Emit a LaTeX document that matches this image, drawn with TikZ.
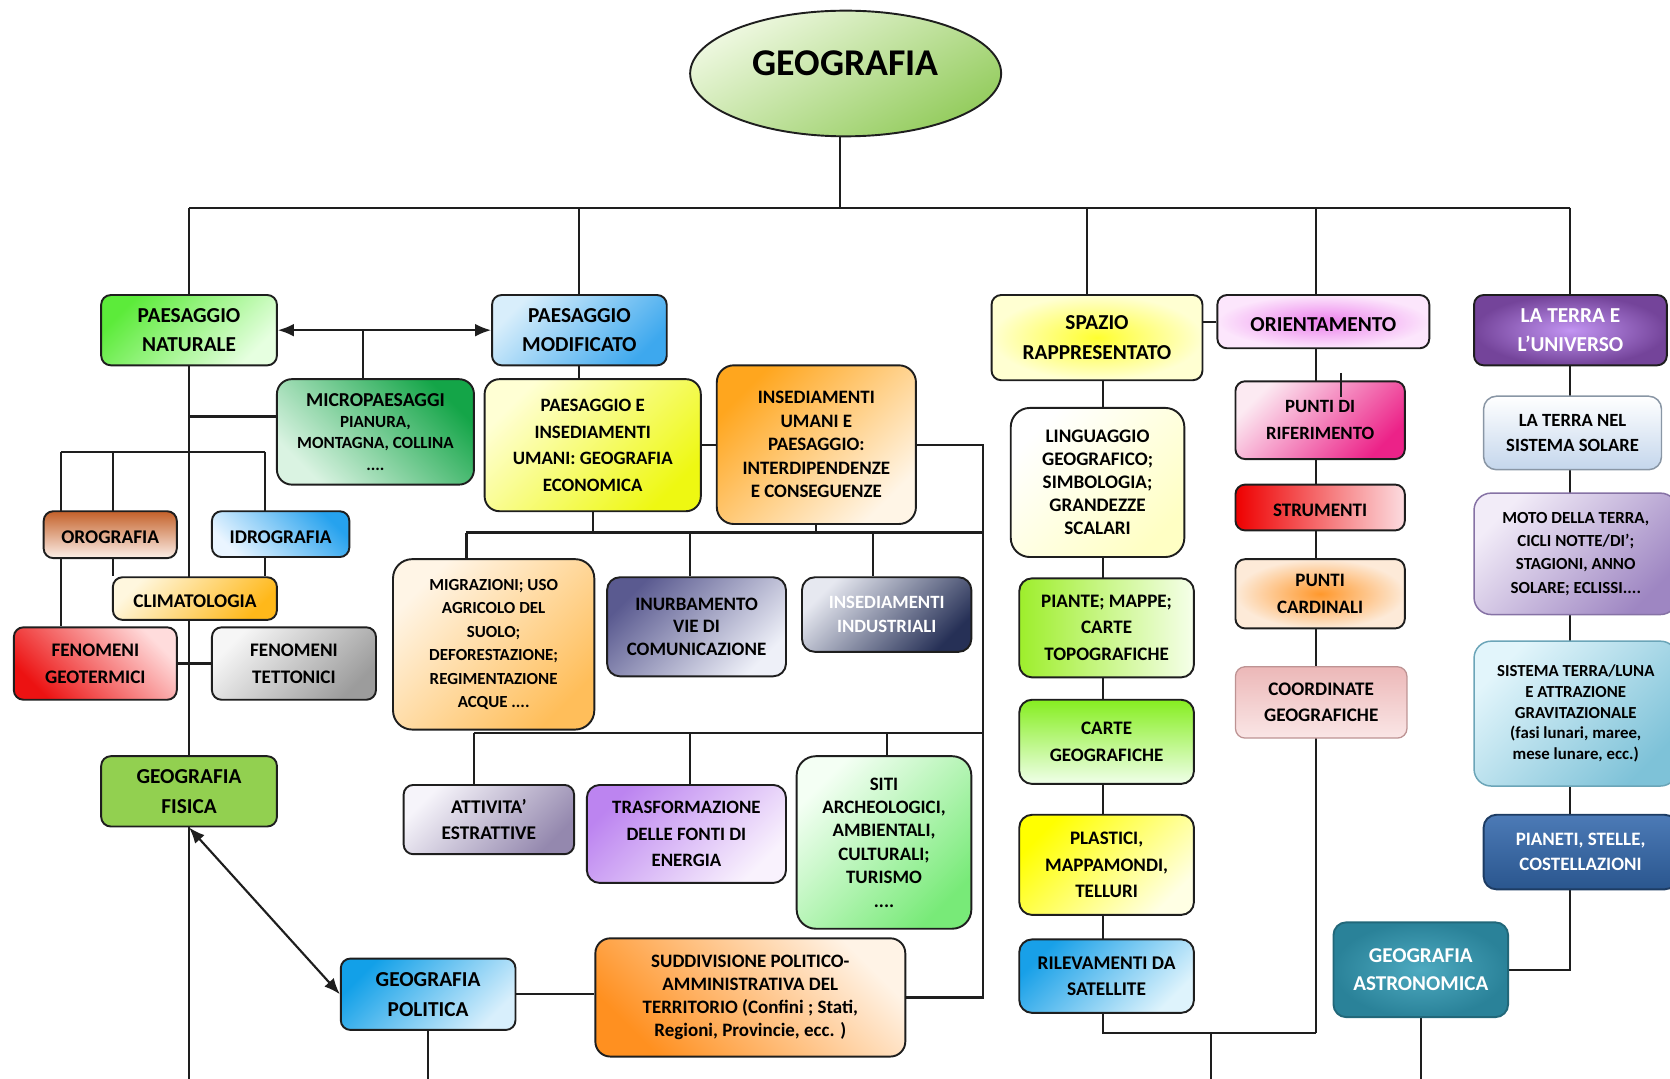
\documentclass[tikz,border=0pt]{standalone}
\usepackage{fontspec}
\setmainfont{Carlito}
\usetikzlibrary{shapes.geometric,arrows.meta,backgrounds}
\definecolor{lineC}{HTML}{1E1E1E}
\definecolor{geA}{HTML}{EEF8E0}\definecolor{geB}{HTML}{94CC5E}
\definecolor{pnA}{HTML}{5CEB3A}\definecolor{pnB}{HTML}{E6FFE0}
\definecolor{pmA}{HTML}{D8EEFB}\definecolor{pmB}{HTML}{3DA8EE}
\definecolor{miA}{HTML}{14A548}\definecolor{miB}{HTML}{DAF3E2}
\definecolor{orA}{HTML}{C4612A}\definecolor{orB}{HTML}{FCEFE8}
\definecolor{idA}{HTML}{26A2EE}\definecolor{idB}{HTML}{EAF5FF}
\definecolor{clA}{HTML}{FFF7DE}\definecolor{clB}{HTML}{FFB81A}
\definecolor{fgA}{HTML}{FFDCDC}\definecolor{fgB}{HTML}{EC1212}
\definecolor{ftA}{HTML}{F6F6F6}\definecolor{ftB}{HTML}{9C9C9C}
\definecolor{gfis}{HTML}{92D050}
\definecolor{gpA}{HTML}{12A0E8}\definecolor{gpB}{HTML}{D8EFFC}
\definecolor{suA}{HTML}{FFF3E6}\definecolor{suB}{HTML}{FF9020}
\definecolor{peA}{HTML}{FFFFD4}\definecolor{peB}{HTML}{EEF812}
\definecolor{iuA}{HTML}{FFA61E}\definecolor{iuB}{HTML}{FFF5E6}
\definecolor{mgA}{HTML}{FFF5E6}\definecolor{mgB}{HTML}{FFBE5A}
\definecolor{inA}{HTML}{5A5A90}\definecolor{inB}{HTML}{EEF0F8}
\definecolor{dsA}{HTML}{E6E8F0}\definecolor{dsB}{HTML}{263056}
\definecolor{atA}{HTML}{F6F4FA}\definecolor{atB}{HTML}{9488AE}
\definecolor{trA}{HTML}{BC84F0}\definecolor{trB}{HTML}{F9F2FD}
\definecolor{siA}{HTML}{F4FFF4}\definecolor{siB}{HTML}{78EA78}
\definecolor{spIn}{HTML}{FFFF30}\definecolor{spOut}{HTML}{FFFFD2}
\definecolor{otIn}{HTML}{EC80EC}\definecolor{otOut}{HTML}{FCE6FC}
\definecolor{liA}{HTML}{FFFFFF}\definecolor{liB}{HTML}{FFFFC4}
\definecolor{piA}{HTML}{9EEE2C}\definecolor{piB}{HTML}{F6FFEA}
\definecolor{caA}{HTML}{86EE20}\definecolor{caB}{HTML}{F0FFEA}
\definecolor{plA}{HTML}{FFFF00}\definecolor{plB}{HTML}{FFFFE4}
\definecolor{riA}{HTML}{18A0E8}\definecolor{riB}{HTML}{DEF3FC}
\definecolor{prA}{HTML}{FCEAF2}\definecolor{prB}{HTML}{EC2288}
\definecolor{stA}{HTML}{EE0000}\definecolor{stB}{HTML}{FCDCE0}
\definecolor{pcIn}{HTML}{FF982C}\definecolor{pcOut}{HTML}{FDEAD8}
\definecolor{coA}{HTML}{ECB8B8}\definecolor{coB}{HTML}{FAE6E6}
\definecolor{teIn}{HTML}{C294F2}\definecolor{teOut}{HTML}{74449A}
\definecolor{tnA}{HTML}{FFFFFF}\definecolor{tnB}{HTML}{C4D6EC}
\definecolor{moA}{HTML}{F2ECF8}\definecolor{moB}{HTML}{9E86C2}
\definecolor{syA}{HTML}{E2F5FB}\definecolor{syB}{HTML}{7EC2D8}
\definecolor{pzA}{HTML}{4C7AB6}\definecolor{pzB}{HTML}{2A568E}
\definecolor{gaIn}{HTML}{4EAAC0}\definecolor{gaOut}{HTML}{2A8299}
\tikzset{
  bx/.style={draw=lineC, line width=1.8pt, rounded corners=9pt, align=center, inner sep=0pt,
    execute at begin node={\rule{0pt}{0.95em}}},
  gr/.style n args={3}{top color=#1, bottom color=#2, shading angle=#3},
  fs/.style 2 args={font=\bfseries\fontsize{#1}{#2}\selectfont},
  sz/.style 2 args={minimum width=#1pt, minimum height=#2pt},
  conn/.style={draw=lineC, line width=2pt},
  tips/.style={{Latex[length=15pt,width=12pt]}-{Latex[length=15pt,width=12pt]}},
}
\begin{document}
\begin{tikzpicture}[x=1pt,y=-1pt]
\useasboundingbox (0,0) rectangle (1568,1013);

% title
\node[ellipse, draw=lineC, line width=1.8pt, gr={geA}{geB}{30}, sz={292}{118}, fs={35.5}{40}] (GEO) at (794,69) {GEOGRAFIA\rule[-20pt]{0pt}{20pt}};

% left part
\node[bx, gr={pnA}{pnB}{45}, sz={165}{66}, fs={20}{27.5}] (PN) at (177.5,310) {PAESAGGIO\\NATURALE};
\node[bx, gr={pmA}{pmB}{45}, sz={164}{66}, fs={20}{27.5}] (PM) at (544,310) {PAESAGGIO\\MODIFICATO};
\node[bx, rounded corners=14pt, gr={miA}{miB}{-45}, sz={185}{99}, fs={16}{20}] (MICRO) at (352.5,405.5) {{\fontsize{18.5}{20}\selectfont MICROPAESAGGI}\\PIANURA,\\MONTAGNA, COLLINA\\....};
\node[bx, gr={orA}{orB}{0}, sz={125}{44}, fs={18.2}{22}] (ORO) at (103.5,502) {OROGRAFIA};
\node[bx, gr={idA}{idB}{-45}, sz={129}{43}, fs={18.2}{22}] (IDRO) at (263.5,501.5) {IDROGRAFIA};
\node[bx, gr={clA}{clB}{45}, sz={154}{40}, fs={18.2}{22}] (CLIMA) at (183,562) {CLIMATOLOGIA};
\node[bx, gr={fgA}{fgB}{-45}, sz={153}{68}, fs={18}{25}] (FGEO) at (89.5,623) {FENOMENI\\GEOTERMICI};
\node[bx, gr={ftA}{ftB}{45}, sz={154}{68}, fs={18}{25}] (FTET) at (276,623) {FENOMENI\\TETTONICI};
\node[bx, fill=gfis, sz={165}{66}, fs={20}{28}] (GFIS) at (177.5,743) {GEOGRAFIA\\FISICA};
\node[bx, gr={gpA}{gpB}{45}, sz={164}{67}, fs={20}{28}] (GPOL) at (402,933.5) {GEOGRAFIA\\POLITICA};
\node[bx, rounded corners=14pt, gr={suA}{suB}{-45}, sz={291}{111}, fs={17.8}{21.7}] (SUDD) at (704.5,936.5) {SUDDIVISIONE POLITICO-\\AMMINISTRATIVA DEL\\TERRITORIO (Confini ; Stati,\\Regioni, Provincie, ecc. )};

% middle part
\node[bx, rounded corners=14pt, gr={peA}{peB}{45}, sz={203}{124}, fs={17.7}{25}] (PEI) at (556.5,418) {PAESAGGIO E\\INSEDIAMENTI\\UMANI: GEOGRAFIA\\ECONOMICA};
\node[bx, rounded corners=16pt, gr={iuA}{iuB}{45}, sz={187}{149}, fs={17.8}{22}] (IUP) at (766.5,417.5) {INSEDIAMENTI\\UMANI E\\PAESAGGIO:\\INTERDIPENDENZE\\E CONSEGUENZE};
\node[bx, rounded corners=18pt, gr={mgA}{mgB}{45}, sz={189}{160}, fs={15.9}{22}] (MIGR) at (463.5,605) {MIGRAZIONI; USO\\AGRICOLO DEL\\SUOLO;\\DEFORESTAZIONE;\\REGIMENTAZIONE\\ACQUE ....};
\node[bx, rounded corners=12pt, gr={inA}{inB}{45}, sz={168}{93}, fs={17.8}{21.5}] (INURB) at (654,588.5) {INURBAMENTO\\VIE DI\\COMUNICAZIONE};
\node[bx, rounded corners=12pt, gr={dsA}{dsB}{45}, sz={159}{70}, fs={17.6}{22}, text=white] (INDUS) at (832.5,577) {INSEDIAMENTI\\INDUSTRIALI};
\node[bx, gr={atA}{atB}{45}, sz={160}{65}, fs={18.2}{24}] (ATT) at (459,769.5) {ATTIVITA’\\ESTRATTIVE};
\node[bx, rounded corners=12pt, gr={trA}{trB}{45}, sz={187}{92}, fs={17.7}{24.5}] (TRAS) at (644.5,783) {TRASFORMAZIONE\\DELLE FONTI DI\\ENERGIA};
\node[bx, rounded corners=18pt, gr={siA}{siB}{45}, sz={164}{162}, fs={17.8}{22}] (SITI) at (830,791) {SITI\\ARCHEOLOGICI,\\AMBIENTALI,\\CULTURALI;\\TURISMO\\....};

% spazio column
\node[bx, inner color=spIn, outer color=spOut, sz={198}{80}, fs={20}{28}] (SPAZIO) at (1030,317) {SPAZIO\\RAPPRESENTATO};
\node[bx, inner color=otIn, outer color=otOut, sz={199}{50}, fs={20}{24}] (ORIENT) at (1242.5,302) {ORIENTAMENTO};
\node[bx, rounded corners=18pt, gr={liA}{liB}{45}, sz={163}{140}, fs={18}{21.7}] (LING) at (1030.5,453) {LINGUAGGIO\\GEOGRAFICO;\\SIMBOLOGIA;\\GRANDEZZE\\SCALARI};
\node[bx, rounded corners=12pt, gr={piA}{piB}{90}, sz={164}{93}, fs={17.9}{25}] (PIANTE) at (1039,589.5) {PIANTE; MAPPE;\\CARTE\\TOPOGRAFICHE};
\node[bx, rounded corners=12pt, gr={caA}{caB}{0}, sz={164}{79}, fs={17.9}{25}] (CARTE) at (1039,696.5) {CARTE\\GEOGRAFICHE};
\node[bx, rounded corners=12pt, gr={plA}{plB}{45}, sz={164}{94}, fs={17.9}{24.5}] (PLAST) at (1039,812) {PLASTICI,\\MAPPAMONDI,\\TELLURI};
\node[bx, rounded corners=12pt, gr={riA}{riB}{45}, sz={164}{69}, fs={18.2}{25}] (RILEV) at (1039,916.5) {RILEVAMENTI DA\\SATELLITE};

% orientamento column
\node[bx, gr={prA}{prB}{45}, sz={159}{73}, fs={17.6}{25}] (PRIF) at (1239.5,394.5) {PUNTI DI\\RIFERIMENTO};
\node[bx, left color=stA, right color=stB, sz={159}{43}, fs={17.9}{22}] (STRUM) at (1239.5,476.5) {STRUMENTI};
\node[bx, inner color=pcIn, outer color=pcOut, sz={159}{65}, fs={17.8}{25}] (PCARD) at (1239.5,557.5) {PUNTI\\CARDINALI};
\node[bx, draw=coA!80!black, line width=1.2pt, gr={coA}{coB}{0}, sz={161}{67}, fs={18}{25}] (COORD) at (1240.5,659.5) {COORDINATE\\GEOGRAFICHE};

% terra column
\node[bx, inner color=teIn, outer color=teOut, sz={181}{66}, fs={20}{28}, text=white] (TERRA) at (1474.5,310) {LA TERRA E\\L’UNIVERSO};
\node[bx, draw=tnB!70!black, line width=1.4pt, rounded corners=12pt, gr={tnA}{tnB}{0}, sz={167}{69}, fs={17.5}{24}] (TNEL) at (1476.5,406.5) {LA TERRA NEL\\SISTEMA SOLARE};
\node[bx, draw=moB!85!black, line width=1.4pt, rounded corners=16pt, gr={moA}{moB}{45}, sz={191}{114}, fs={15.9}{22}] (MOTO) at (1479.5,520) {MOTO DELLA TERRA,\\CICLI NOTTE/DI’;\\STAGIONI, ANNO\\SOLARE; ECLISSI....};
\node[bx, draw=syB!85!black, line width=1.4pt, rounded corners=16pt, gr={syA}{syB}{45}, sz={191}{136}, fs={15.8}{19.5}] (SIST) at (1479.5,670) {SISTEMA TERRA/LUNA\\E ATTRAZIONE\\GRAVITAZIONALE\\(fasi lunari, maree,\\mese lunare, ecc.)};
\node[bx, draw=pzB!70!black, rounded corners=12pt, gr={pzA}{pzB}{0}, sz={182}{70}, fs={17.8}{24}, text=white] (PIAN) at (1484,800) {PIANETI, STELLE,\\COSTELLAZIONI};
\node[bx, draw=gaOut!80!black, rounded corners=12pt, inner color=gaIn, outer color=gaOut, sz={164}{89}, fs={19.8}{27}, text=white] (GASTR) at (1334,910.5) {GEOGRAFIA\\ASTRONOMICA};

% helper coordinates
\coordinate (B) at (0,1013);
\coordinate (bus1) at (0,195);
\coordinate (gx) at (789,0);
\coordinate (sd) at (1021,0);
\coordinate (oc) at (1236,0);
\coordinate (sc) at (1036,0);
\coordinate (tc) at (1474,0);
\coordinate (rx) at (923,0);
\coordinate (r970) at (1137,970);
\coordinate (j1) at (177.5,391);
\coordinate (h2L) at (57,424);
\coordinate (h2M) at (106,424);
\coordinate (h2R) at (249,424);
\coordinate (mtop) at (341,310);
\coordinate (b2L) at (438,500);
\coordinate (b2a) at (648,500);
\coordinate (b2b) at (820,500);
\coordinate (b3L) at (445,688);
\coordinate (b3a) at (648,688);
\coordinate (b3b) at (833,688);
\coordinate (tk1) at (1259,350);
\coordinate (tk2) at (1259,373);

\begin{pgfonlayer}{background}
\begin{scope}[conn]
  % top bus
  \draw[conn] (gx |- GEO.south) -- (gx |- bus1);
  \draw[conn] (PN.north |- bus1) -- (tc |- bus1);
  \draw[conn] (PN.north) -- (PN.north |- bus1);
  \draw[conn] (PM.north) -- (PM.north |- bus1);
  \draw[conn] (sd |- bus1) -- (sd |- SPAZIO.north);
  \draw[conn] (oc |- bus1) -- (oc |- ORIENT.north);
  \draw[conn] (tc |- bus1) -- (tc |- TERRA.north);
  % left
  \draw[conn, tips] (PN.east) -- (PM.west);
  \draw[conn] (mtop) -- (mtop |- MICRO.north);
  \draw[conn] (PN.south) -- (PN.south |- B);
  \draw[conn] (j1) -- (j1 -| MICRO.west);
  \draw[conn] (h2L) -- (h2R);
  \draw[conn] (h2L) -- (h2L |- FGEO.north);
  \draw[conn] (h2M) -- (h2M |- CLIMA.north);
  \draw[conn] (h2R) -- (h2R |- CLIMA.north);
  \draw[conn] (FGEO.east) -- (FTET.west);
  \draw[conn, tips] (GFIS.south) -- (GPOL.west);
  \draw[conn] (GPOL.south) -- (GPOL.south |- B);
  \draw[conn] (GPOL.east) -- (GPOL.east -| SUDD.west);
  % middle
  \draw[conn] (PM.south) -- (PM.south |- PEI.north);
  \draw[conn] (PEI.east) -- (PEI.east -| IUP.west);
  \draw[conn] (SUDD.east) -| (rx |- IUP.east) -- (IUP.east);
  \draw[conn] (b2L) -- (rx |- b2L);
  \draw[conn] (PEI.south) -- (PEI.south |- b2L);
  \draw[conn] (IUP.south) -- (IUP.south |- b2L);
  \draw[conn] (b2L) -- (b2L |- MIGR.north);
  \draw[conn] (b2a) -- (b2a |- INURB.north);
  \draw[conn] (b2b) -- (b2b |- INDUS.north);
  \draw[conn] (b3L) -- (rx |- b3L);
  \draw[conn] (b3L) -- (b3L |- ATT.north);
  \draw[conn] (b3a) -- (b3a |- TRAS.north);
  \draw[conn] (b3b) -- (b3b |- SITI.north);
  % spazio / orientamento
  \draw[conn] (ORIENT.west) -- (ORIENT.west -| SPAZIO.east);
  \draw[conn] (sc |- SPAZIO.south) |- (oc |- r970);
  \draw[conn] (oc |- ORIENT.south) -- (oc |- r970);
  \draw[conn] (r970) -- (r970 |- B);
  % terra
  \draw[conn] (tc |- TERRA.south) |- (GASTR.east);
  \draw[conn] (GASTR.south) -- (GASTR.south |- B);
\end{scope}
\end{pgfonlayer}
\draw[conn, line width=1.5pt] (tk1) -- (tk2);
\end{tikzpicture}
\end{document}
